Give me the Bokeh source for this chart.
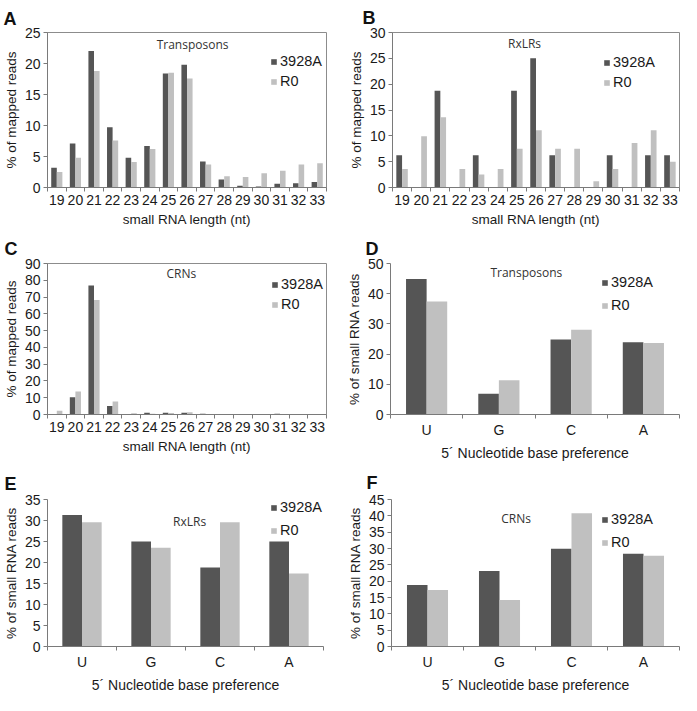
from bokeh.plotting import figure
from bokeh.models import FixedTicker, Range1d, Label, Legend, LegendItem, ColumnDataSource
from bokeh.layouts import column, row
from bokeh.transform import dodge
from bokeh.embed import file_html
from bokeh.resources import INLINE

# ---------------- data ----------------
lengths = list(range(19, 34))
bases = ["U", "G", "C", "A"]
series_names = ["3928A", "R0"]

transposons_len_3928A = [3.2, 7.1, 22.0, 9.7, 4.8, 6.7, 18.4, 19.8, 4.2, 1.3, 0.3, 0.15, 0.6, 0.7, 0.9]
transposons_len_R0 = [2.5, 4.8, 18.8, 7.6, 4.1, 6.2, 18.5, 17.6, 3.7, 1.8, 1.7, 2.3, 2.7, 3.7, 3.9]

rxlrs_len_3928A = [6.25, 0, 18.75, 0, 6.25, 0, 18.75, 25.0, 6.25, 0, 0, 6.25, 0, 6.25, 6.25]
rxlrs_len_R0 = [3.6, 9.9, 13.6, 3.6, 2.5, 3.6, 7.5, 11.1, 7.5, 7.5, 1.2, 3.6, 8.6, 11.1, 5.0]

crns_len_3928A = [0.3, 10.3, 76.9, 5.0, 0.2, 1.0, 1.0, 1.0, 0.4, 0.3, 0.1, 0.1, 0.4, 0.1, 0.1]
crns_len_R0 = [2.2, 13.7, 68.2, 7.7, 0.8, 0.4, 0.9, 1.4, 0.2, 0.1, 0.1, 0.1, 0.1, 0.1, 0.0]

transposons_base_3928A = [44.9, 6.9, 24.8, 23.9]
transposons_base_R0 = [37.4, 11.3, 28.1, 23.7]

rxlrs_base_3928A = [31.3, 25.0, 18.8, 25.0]
rxlrs_base_R0 = [29.6, 23.5, 29.6, 17.4]

crns_base_3928A = [18.8, 23.1, 29.9, 28.4]
crns_base_R0 = [17.3, 14.2, 40.8, 27.8]

panel_letters = ["A", "B", "C", "D", "E", "F"]
panel_names = ["Transposons", "RxLRs", "CRNs", "Transposons", "RxLRs", "CRNs"]
len_xlabel = "small RNA length (nt)"
base_xlabel = "5\u00b4 Nucleotide base preference"
len_ylabel = "% of mapped reads"
base_ylabel = "% of small RNA reads"

DARK = "#555555"
LIGHT = "#c0c0c0"
FONT = "Liberation Sans"
EXTRA_BOTTOM = 8  # extra space bokeh keeps below the x axis in this layout


def make_panel(letter, name, cats, dark, light, is_len, ymax, ystep, ylabel, xlabel,
               width, height, borders, name_xy, legend_off, title_off, title_standoff,
               boxed, row_gap, barw):
    left, right, top, bottom = borders
    if is_len:
        xs = list(cats)
        x_range = Range1d(xs[0] - 0.5, xs[-1] + 0.5)
    else:
        xs = list(range(len(cats)))
        x_range = Range1d(-0.5, len(cats) - 0.5)
    p = figure(width=width, height=height, x_range=x_range, y_range=Range1d(0, ymax),
               output_backend="svg", toolbar_location=None,
               min_border_left=left, min_border_right=right,
               min_border_top=top, min_border_bottom=bottom)
    p.background_fill_color = "white"
    p.border_fill_color = "white"
    p.xgrid.visible = False
    p.ygrid.visible = False
    p.outline_line_color = "#8c8c8c" if boxed else None

    src = ColumnDataSource(dict(x=xs, d=dark, l=light))
    r1 = p.vbar(x=dodge("x", -barw / 2), top="d", width=barw, source=src,
                fill_color=DARK, line_color=None)
    r2 = p.vbar(x=dodge("x", barw / 2), top="l", width=barw, source=src,
                fill_color=LIGHT, line_color=None)

    # axes
    p.xaxis.ticker = FixedTicker(ticks=xs, minor_ticks=[v - 0.5 for v in xs] + [xs[-1] + 0.5])
    if not is_len:
        p.xaxis.major_label_overrides = {i: c for i, c in enumerate(cats)}
    p.xaxis.major_tick_out = 0
    p.xaxis.major_tick_in = 0
    p.xaxis.minor_tick_out = 4
    p.xaxis.minor_tick_in = 0
    p.yaxis.ticker = FixedTicker(ticks=list(range(0, ymax + 1, ystep)))
    p.yaxis.major_tick_out = 4
    p.yaxis.major_tick_in = 0
    p.yaxis.minor_tick_out = 0
    p.yaxis.minor_tick_in = 0
    for ax in (p.xaxis, p.yaxis):
        ax.axis_line_color = "#7a7a7a"
        ax.major_tick_line_color = "#7a7a7a"
        ax.minor_tick_line_color = "#7a7a7a"
        ax.major_label_text_font = FONT
        ax.major_label_text_font_size = "14px"
        ax.major_label_text_color = "#1a1a1a"
        ax.axis_label_text_font = FONT
        ax.axis_label_text_font_style = "normal"
        ax.axis_label_text_color = "#1a1a1a"
        ax.major_label_standoff = 3
        ax.axis_label_standoff = 3
    p.xaxis.axis_label = xlabel
    p.yaxis.axis_label = ylabel
    p.xaxis.axis_label_text_font_size = "13.5px" if is_len else "14px"
    p.yaxis.axis_label_text_font_size = "13.5px"
    p.xaxis.axis_label_standoff = 4

    # panel letter
    p.title.text = letter
    p.title.text_font = FONT
    p.title.text_font_style = "bold"
    p.title.text_font_size = "18px"
    p.title.text_color = "#111111"
    p.title.align = "left"
    p.title.offset = title_off
    p.title.standoff = title_standoff

    # inner name
    p.add_layout(Label(x=name_xy[0], y=name_xy[1], text=name, text_font="Open Sans",
                       text_font_size="12px", text_color="#333333",
                       text_align="center", text_baseline="middle"))

    # legend
    fw = width - left - right
    fh = height - top - bottom - EXTRA_BOTTOM
    row_h = 17
    leg_h = 2 * row_h + row_gap
    off_right, row1_center = legend_off
    vx = fw - off_right
    vy = fh - (row1_center - row_h / 2) - leg_h
    legend = Legend(items=[LegendItem(label=series_names[0], renderers=[r1]),
                           LegendItem(label=series_names[1], renderers=[r2])],
                    location=(vx, vy), padding=0, margin=0, spacing=row_gap,
                    glyph_width=7, glyph_height=7, label_standoff=3, label_height=row_h,
                    label_text_font=FONT, label_text_font_size="14.5px",
                    label_text_color="#1a1a1a",
                    background_fill_alpha=0, border_line_alpha=0)
    p.add_layout(legend)
    return p


LW, RW = 338, 343
pA = make_panel(panel_letters[0], panel_names[0], lengths, transposons_len_3928A, transposons_len_R0,
                True, 25, 5, len_ylabel, len_xlabel, LW, 231, (42, 12, 25, 44),
                (26.3, 23.1), (61, 28), -44, 8, True, 3, 0.3)
pB = make_panel(panel_letters[1], panel_names[1], lengths, rxlrs_len_3928A, rxlrs_len_R0,
                True, 30, 5, len_ylabel, len_xlabel, RW, 231, (54, 2, 27, 44),
                (25.4, 27.9), (76, 27), -30, 10, True, 3, 0.3)
pC = make_panel(panel_letters[2], panel_names[2], lengths, crns_len_3928A, crns_len_R0,
                True, 90, 10, len_ylabel, len_xlabel, LW, 232, (42, 12, 27, 44),
                (25.7, 83.8), (60, 23), -43, 10, True, 3, 0.3)
pD = make_panel(panel_letters[3], panel_names[3], bases, transposons_base_3928A, transposons_base_R0,
                False, 50, 10, base_ylabel, base_xlabel, RW, 232, (52, 2, 28, 45),
                (1.38, 46.9), (78, 19), -25, 9, False, 6, 0.285)
pE = make_panel(panel_letters[4], panel_names[4], bases, rxlrs_base_3928A, rxlrs_base_R0,
                False, 35, 5, base_ylabel, base_xlabel, LW, 232, (42, 15, 28, 45),
                (1.56, 29.7), (58, 12), -43, 12, False, 6, 0.285)
pF = make_panel(panel_letters[5], panel_names[5], bases, crns_base_3928A, crns_base_R0,
                False, 45, 5, base_ylabel, base_xlabel, RW, 232, (53, 2, 30, 47),
                (1.23, 39.2), (78, 20), -25, 14, False, 6, 0.285)

layout = column(row(pA, pB), row(pC, pD), row(pE, pF))

open("out.html", "w").write(file_html(layout, INLINE))
